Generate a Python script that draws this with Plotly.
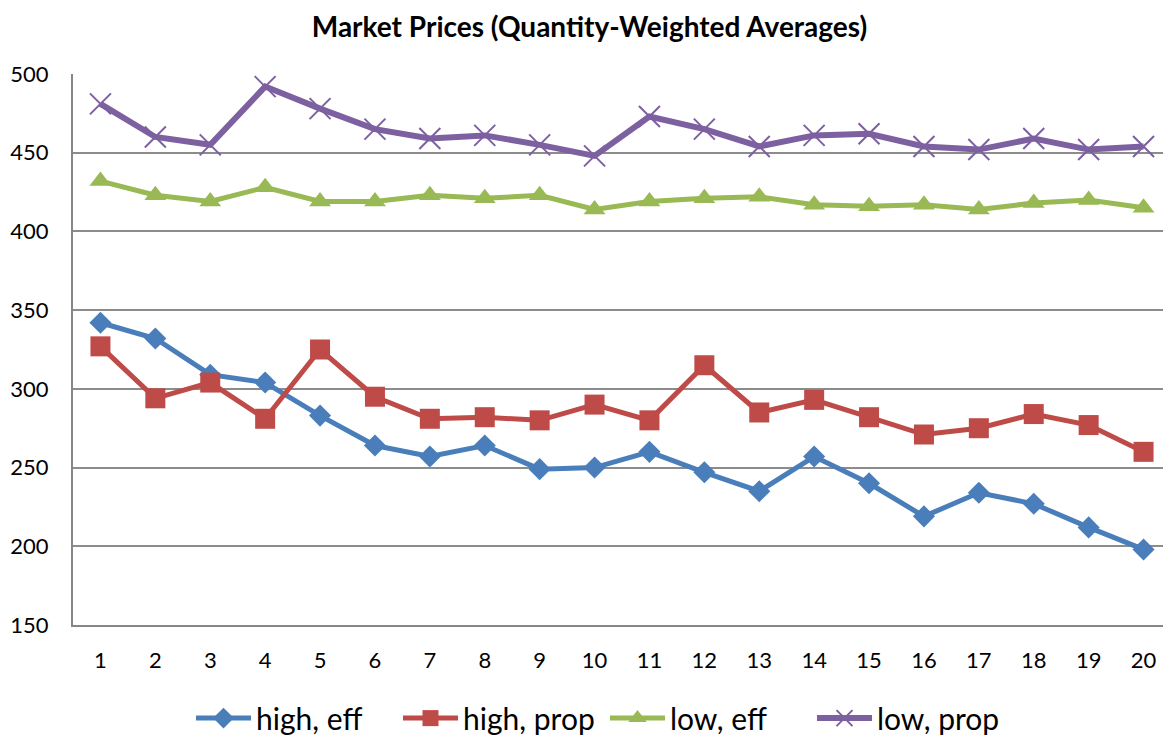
import plotly.graph_objects as go

periods = list(range(1, 21))
high_eff = [342, 332, 309, 304, 283, 264, 257, 264, 249, 250, 260, 247, 235, 257, 240, 219, 234, 227, 212, 198]
high_prop = [327, 294, 304, 281, 325, 295, 281, 282, 280, 290, 280, 315, 285, 293, 282, 271, 275, 284, 277, 260]
low_eff = [432, 423, 419, 428, 419, 419, 423, 421, 423, 414, 419, 421, 422, 417, 416, 417, 414, 418, 420, 415]
low_prop = [481, 460, 455, 492, 478, 465, 459, 461, 455, 448, 473, 465, 454, 461, 462, 454, 452, 459, 452, 454]
y_ticks = [150, 200, 250, 300, 350, 400, 450, 500]

series = [
    ("high, eff", high_eff, "#4A7EBB", "diamond", 17, 5),
    ("high, prop", high_prop, "#BE4B48", "square", 20, 5),
    ("low, eff", low_eff, "#98B954", "triangle-up", 19, 5),
    ("low, prop", low_prop, "#7D60A0", "x-thin-open", 21, 6),
]

fig = go.Figure()
for name, vals, color, sym, size, lw in series:
    marker = dict(symbol=sym, size=size, color=color)
    if sym == "x-thin-open":
        marker["line"] = dict(color=color, width=2)
    fig.add_trace(go.Scatter(
        x=periods, y=vals, name=name, mode="lines+markers",
        line=dict(color=color, width=lw), marker=marker,
    ))

fig.update_layout(
    width=1163, height=732,
    paper_bgcolor="white", plot_bgcolor="white",
    margin=dict(l=65, r=0, t=66, b=115, autoexpand=False),
    font=dict(family="Lato, 'Open Sans', sans-serif", color="black", size=22),
    title=dict(text="<b>Market Prices (Quantity-Weighted Averages)</b>",
               x=0.5, xanchor="center", y=1 - 19 / 732, yanchor="middle",
               font=dict(size=28, color="black")),
    showlegend=True,
    legend=dict(orientation="h", x=(201 - 73 - 10) / 1098, xanchor="left",
                y=-0.169, yanchor="middle",
                font=dict(size=30), itemwidth=55, tracegroupgap=0,
                entrywidth=137, entrywidthmode="pixels"),
    xaxis=dict(range=[0.5, 20.5], tickmode="array", tickvals=periods,
               showgrid=False, showline=True, linecolor="#868686", linewidth=2,
               ticks="", tickfont=dict(size=22), zeroline=False, ticklabelstandoff=15),
    yaxis=dict(range=[150, 500], tickmode="array", tickvals=y_ticks,
               showgrid=True, gridcolor="#8C8C8C", gridwidth=2,
               showline=True, linecolor="#868686", linewidth=2,
               ticks="", tickfont=dict(size=22), zeroline=False, ticklabelstandoff=18),
)

fig.write_html("out.html")
